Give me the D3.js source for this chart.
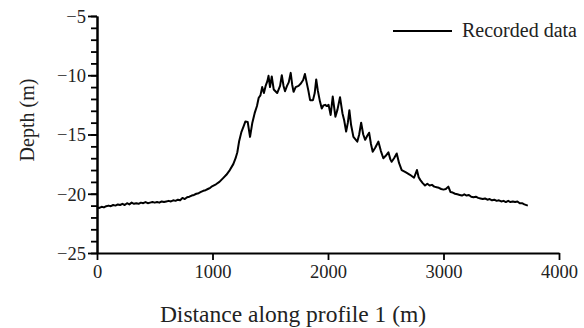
<!DOCTYPE html>
<html>
<head>
<meta charset="utf-8">
<script src="https://cdn.jsdelivr.net/npm/d3@7/dist/d3.min.js"></script>
<style>
  body { margin: 0; background: #fff; }
  svg { display: block; }
</style>
</head>
<body>
<div id="chart"></div>
<script>
// profile data (distance in m, depth in m)
const distance = [
  0, 20, 40, 60, 80, 100, 120, 140, 160, 180, 200, 220, 240, 260, 280, 300, 320, 340, 360, 380,
  400, 420, 440, 460, 480, 500, 520, 540, 560, 580, 600, 620, 640, 660, 680, 700, 720, 740, 760, 780,
  800, 820, 840, 860, 880, 900, 920, 940, 960, 980, 1000, 1030, 1060, 1090, 1120, 1150, 1180, 1200, 1215, 1230,
  1250, 1270, 1285, 1305, 1325, 1345, 1365, 1385, 1400, 1415, 1430, 1445, 1460, 1475, 1485, 1498, 1513, 1530, 1560, 1585,
  1600, 1615, 1628, 1645, 1660, 1677, 1690, 1702, 1720, 1745, 1765, 1785, 1800, 1815, 1830, 1845, 1870, 1885, 1898, 1912,
  1930, 1946, 1960, 1975, 1990, 2005, 2023, 2041, 2064, 2082, 2104, 2125, 2140, 2157, 2172, 2185, 2200, 2220, 2254, 2270,
  2287, 2305, 2322, 2340, 2356, 2372, 2387, 2410, 2436, 2458, 2479, 2500, 2523, 2540, 2551, 2572, 2595, 2615, 2638, 2675,
  2710, 2745, 2770, 2785, 2800, 2820, 2840, 2860, 2880, 2900, 2920, 2940, 2960, 2980, 3000, 3020, 3042, 3060, 3080, 3100,
  3120, 3140, 3160, 3180, 3200, 3220, 3240, 3260, 3280, 3300, 3320, 3340, 3360, 3380, 3400, 3420, 3440, 3460, 3480, 3500,
  3520, 3540, 3560, 3580, 3600, 3620, 3640, 3660, 3680, 3700, 3730
];
const depth = [
  -21.15, -21.2, -21.1, -21.15, -21.05, -21.0, -21.05, -20.95, -21.0, -20.9, -20.95, -20.85, -20.95, -20.8, -20.9, -20.75, -20.85, -20.8, -20.85, -20.75,
  -20.8, -20.7, -20.8, -20.75, -20.7, -20.75, -20.7, -20.75, -20.65, -20.7, -20.65, -20.6, -20.65, -20.55, -20.6, -20.5, -20.55, -20.35, -20.45, -20.3,
  -20.25, -20.15, -20.1, -20.0, -19.95, -19.85, -19.75, -19.7, -19.6, -19.5, -19.35, -19.2, -19.0, -18.7, -18.4, -18.0, -17.5, -17.0, -16.5, -15.6,
  -14.8, -14.3, -13.9, -13.95, -15.2, -14.0, -13.2, -12.6, -11.9, -11.7, -11.0, -11.5, -10.9, -10.5, -10.05, -11.0, -10.1, -11.2, -11.5, -10.9,
  -10.0, -10.9, -11.35, -10.9, -10.6, -9.8, -10.8, -11.4, -11.0, -10.9, -10.7, -10.4, -9.9, -10.6, -11.3, -12.1, -12.1, -11.5, -10.35, -11.3,
  -12.2, -12.8, -12.55, -12.5, -12.6, -12.5, -13.35, -11.8, -13.5, -12.9, -11.85, -13.2, -13.8, -14.75, -14.0, -12.95, -14.2, -15.2, -15.6, -15.0,
  -14.0, -15.0, -15.45, -15.1, -14.85, -15.8, -16.45, -16.1, -15.6, -16.4, -17.0, -16.8, -16.5, -17.1, -17.3, -17.0, -16.6, -17.4, -18.0, -18.2,
  -18.4, -18.65, -18.0, -18.6, -18.85, -19.1, -19.3, -19.15, -19.3, -19.25, -19.4, -19.45, -19.5, -19.6, -19.65, -19.6, -19.4, -19.85, -19.9, -20.0,
  -20.05, -20.1, -20.15, -20.05, -20.15, -20.1, -20.25, -20.3, -20.25, -20.35, -20.4, -20.45, -20.4, -20.5, -20.45, -20.55, -20.5, -20.6, -20.55, -20.65,
  -20.6, -20.7, -20.6, -20.7, -20.65, -20.7, -20.65, -20.8, -20.8, -20.9, -21.0
];
const xTicks = [0, 1000, 2000, 3000, 4000];
const yTicks = [-5, -10, -15, -20, -25];
const legendLabel = "Recorded data";

const FONT = "'Liberation Serif', 'Times New Roman', serif";
const W = 584, H = 328;
const margin = { top: 16, right: 25, bottom: 75, left: 97 };
const width = W - margin.left - margin.right;
const height = H - margin.top - margin.bottom;

const data = distance.map((d, i) => ({ x: d, y: depth[i] }));

const svg = d3.select("#chart").append("svg")
    .attr("width", W)
    .attr("height", H)
    .attr("font-family", FONT);

const g = svg.append("g")
    .attr("transform", "translate(" + margin.left + "," + margin.top + ")");

const x = d3.scaleLinear().domain([0, 4000]).range([0, width]);
const y = d3.scaleLinear().domain([-25, -5]).range([height, 0]);

const fmt = d => (d < 0 ? "\u2212" + Math.abs(d) : "" + d);

// x axis
const xAxis = g.append("g")
    .attr("transform", "translate(0," + height + ")")
    .call(d3.axisBottom(x).tickValues(xTicks).tickSize(7).tickSizeOuter(0).tickPadding(5).tickFormat(fmt));

// y axis: minor ticks every metre, majors every 5
g.append("g")
    .call(d3.axisLeft(y).tickValues(d3.range(-25, -4, 1)).tickSize(6).tickSizeOuter(0).tickFormat(""));
const yAxis = g.append("g")
    .call(d3.axisLeft(y).tickValues(yTicks).tickSize(9).tickSizeOuter(0).tickPadding(2).tickFormat(fmt));

g.selectAll(".domain").attr("stroke", "#000").attr("stroke-width", 2);
g.selectAll(".tick line").attr("stroke", "#000").attr("stroke-width", 1.8);
g.selectAll(".tick text")
    .attr("fill", "#222")
    .style("font-family", FONT)
    .style("font-size", "18.5px");
yAxis.selectAll(".tick text").attr("dy", "0.34em");

// profile line
g.append("path")
    .datum(data)
    .attr("fill", "none")
    .attr("stroke", "#000")
    .attr("stroke-width", 2)
    .attr("stroke-linejoin", "round")
    .attr("d", d3.line().x(d => x(d.x)).y(d => y(d.y)));

// axis titles
svg.append("text")
    .attr("x", 293)
    .attr("y", 322)
    .attr("text-anchor", "middle")
    .attr("fill", "#222")
    .style("font-size", "23.5px")
    .text("Distance along profile 1 (m)");

svg.append("text")
    .attr("transform", "translate(34,120) rotate(-90)")
    .attr("text-anchor", "middle")
    .attr("fill", "#222")
    .style("font-size", "20px")
    .text("Depth (m)");

// legend
svg.append("line")
    .attr("x1", 393).attr("x2", 452)
    .attr("y1", 31).attr("y2", 31)
    .attr("stroke", "#000")
    .attr("stroke-width", 2);
svg.append("text")
    .attr("x", 462)
    .attr("y", 37)
    .attr("fill", "#222")
    .style("font-size", "20px")
    .text(legendLabel);
</script>
</body>
</html>
